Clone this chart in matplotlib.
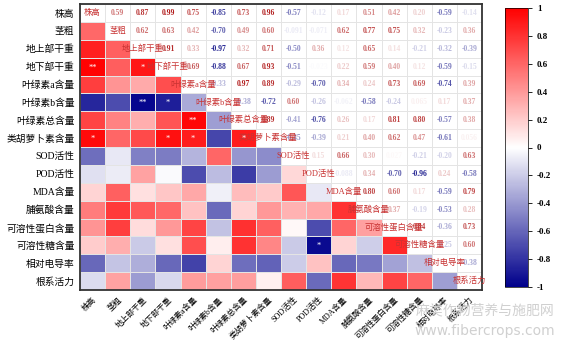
import numpy as np
import matplotlib.pyplot as plt
from matplotlib.colors import LinearSegmentedColormap, Normalize

plt.rcParams['font.family'] = ['Liberation Serif', 'Noto Sans CJK SC']

labels = ['株高', '茎粗', '地上部干重', '地下部干重', '叶绿素a含量', '叶绿素b含量',
          '叶绿素总含量', '类胡萝卜素含量', 'SOD活性', 'POD活性', 'MDA含量', '脯氨酸含量',
          '可溶性蛋白含量', '可溶性糖含量', '相对电导率', '根系活力']

# upper triangle, row by row (values right of the diagonal)
r0 = [0.59, 0.87, 0.99, 0.75, -0.85, 0.73, 0.96, -0.57, -0.12, 0.17, 0.51, 0.42, 0.20, -0.59, -0.14]
r1 = [0.62, 0.63, 0.42, -0.70, 0.49, 0.60, -0.091, -0.071, 0.62, 0.77, 0.75, 0.32, -0.23, 0.36]
r2 = [0.91, 0.33, -0.97, 0.32, 0.71, -0.50, 0.36, 0.12, 0.65, 0.14, -0.21, -0.32, -0.39]
r3 = [0.69, -0.88, 0.67, 0.93, -0.51, -0.023, 0.22, 0.59, 0.40, 0.12, -0.59, -0.15]
r4 = [-0.33, 0.97, 0.89, -0.29, -0.70, 0.34, 0.24, 0.73, 0.69, -0.74, 0.39]
r5 = [-0.38, -0.72, 0.60, -0.26, -0.062, -0.58, -0.24, 0.065, 0.17, 0.37]
r6 = [0.89, -0.41, -0.76, 0.26, 0.17, 0.81, 0.80, -0.57, 0.38]
r7 = [-0.45, -0.39, 0.21, 0.40, 0.62, 0.47, -0.61, 0.056]
r8 = [0.15, 0.66, 0.30, 0.027, -0.21, -0.20, 0.63]
r9 = [-0.088, 0.34, -0.70, -0.96, 0.24, -0.58]
r10 = [0.80, 0.60, 0.17, -0.59, 0.79]
r11 = [0.37, -0.19, -0.53, 0.28]
r12 = [0.84, -0.36, 0.73]
r13 = [-0.25, 0.60]
r14 = [-0.38]
upper = [r0, r1, r2, r3, r4, r5, r6, r7, r8, r9, r10, r11, r12, r13, r14]

# significance marks in the lower triangle (row, col, mark)
stars = [(3, 0, '**'), (3, 2, '*'), (5, 2, '**'), (5, 3, '*'), (6, 4, '**'),
         (7, 0, '*'), (7, 3, '*'), (7, 4, '*'), (7, 6, '*'), (13, 9, '*')]

n = len(labels)
corr = np.eye(n)
for i, row in enumerate(upper):
    for k, v in enumerate(row):
        corr[i, i + 1 + k] = v
        corr[i + 1 + k, i] = v

cmap = LinearSegmentedColormap.from_list('rb', ['#00008B', '#FFFFFF', '#FF0000'])
tcmap = LinearSegmentedColormap.from_list('rbt', ['#1A1A8C', '#FFFFFF', '#B01818'])
norm = Normalize(-1, 1)

fig = plt.figure(figsize=(5.63, 3.40), dpi=100)
ax = fig.add_axes([80 / 563, 50 / 340, 402 / 563, 286 / 340])

lower = np.ma.masked_where(np.triu(np.ones((n, n), bool)), corr)
ax.pcolormesh(np.arange(n + 1), np.arange(n + 1), np.zeros((n, n)), cmap='Greys', vmin=0, vmax=10,
              edgecolor='#e4e4e4', linewidth=0.5)
ax.pcolormesh(np.arange(n + 1), np.arange(n + 1), lower, cmap=cmap, norm=norm,
              edgecolor='#e4e4e4', linewidth=0.5)
ax.set_xlim(0, n)
ax.set_ylim(n, 0)

# numbers in the upper triangle
for i in range(n):
    for j in range(i + 1, n):
        v = corr[i, j]
        s = f'{v:.2f}' if abs(v) >= 0.1 else f'{v:.2g}'
        ax.text(j + 0.5, i + 0.5, s, ha='center', va='center', fontsize=5.5,
                color=tcmap(norm(v)), fontweight='bold')

# variable names on the diagonal
for i, lab in enumerate(labels):
    ax.text(i + 0.5, i + 0.5, lab, ha='center', va='center', fontsize=6, color='#C83232')

for i, j, m in stars:
    ax.text(j + 0.5, i + 0.55, m, ha='center', va='center', fontsize=6, color='white')

ax.set_xticks(np.arange(n) + 0.5)
ax.set_yticks(np.arange(n) + 0.5)
ax.set_xticklabels(labels, rotation=45, ha='right', rotation_mode='anchor', fontsize=5.8,
                   fontweight='medium')
ax.set_yticklabels(labels, fontsize=7, fontweight='medium')
ax.tick_params(length=0, pad=4)
for sp in ax.spines.values():
    sp.set_linewidth(1.3)
    sp.set_color('#333333')

cax = fig.add_axes([505 / 563, 53 / 340, 23 / 563, 279 / 340])
sm = plt.cm.ScalarMappable(norm=norm, cmap=cmap)
cb = fig.colorbar(sm, cax=cax, ticks=np.linspace(-1, 1, 11))
cb.ax.set_yticklabels(['-1', '-0.8', '-0.6', '-0.4', '-0.2', '0', '0.2', '0.4', '0.6', '0.8', '1'],
                      fontsize=6.5, fontweight='bold')
cb.ax.tick_params(length=3, width=0.6)
cb.outline.set_linewidth(0.5)

fig.text(0.985, 0.075, '麻类作物营养与施肥网', ha='right', fontsize=10, color='#d0d0d0',
         family='Noto Sans CJK SC')
fig.text(0.985, 0.015, 'www.fibercrops.com', ha='right', fontsize=10, color='#d0d0d0',
         family='DejaVu Sans')

fig.savefig('out.png', dpi=100)
